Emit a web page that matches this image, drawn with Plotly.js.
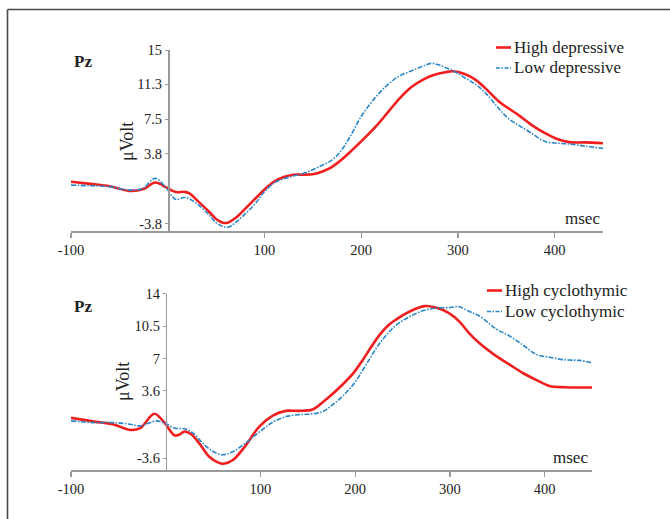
<!DOCTYPE html>
<html>
<head>
<meta charset="utf-8">
<script src="https://cdn.plot.ly/plotly-3.0.1.min.js"></script>
<style>html,body{margin:0;padding:0;background:#fff;}#chart{width:670px;height:519px;}</style>
</head>
<body>
<div id="chart"></div>
<script>
// ---- Data ----
const seriesNames = ["High depressive", "Low depressive", "High cyclothymic", "Low cyclothymic"];
const xTickVals = [-100, 100, 200, 300, 400];
const xTickText = ["-100", "100", "200", "300", "400"];
const yTopTickVals = [-3.8, 3.8, 7.5, 11.3, 15];
const yTopTickText = ["-3.8", "3.8", "7.5", "11.3", "15"];
const yBotTickVals = [-3.6, 3.6, 7, 10.5, 14];
const yBotTickText = ["-3.6", "3.6", "7", "10.5", "14"];

const msHighDep = [-100,-80,-60,-40,-25,-13,-2,5,10,17,22,32,43,50,57,62,70,80,90,100,110,120,130,140,150,160,170,180,190,200,215,228,240,252,265,275,287,295,307,318,328,342,352,362,376,390,404,417,431,450];
const vHighDep  = [0.73,0.5,0.25,-0.25,-0.05,0.65,0.15,-0.25,-0.4,-0.36,-0.5,-1.45,-2.54,-3.3,-3.7,-3.7,-3.2,-2.2,-1.15,-0.1,0.75,1.25,1.5,1.5,1.55,1.85,2.35,3.15,4.1,5.1,6.7,8.3,9.8,11.0,11.85,12.3,12.6,12.7,12.4,11.8,10.9,9.45,8.7,8.0,6.9,6.0,5.3,5.0,5.0,4.9];

const msLowDep = [-100,-80,-60,-40,-26,-13,-2,5,9,17,22,32,43,50,57,62,70,80,90,100,110,120,130,142,156,170,180,190,200,215,228,239,252,263,272,280,287,296,307,318,328,342,352,362,376,390,404,417,431,450];
const vLowDep  = [0.37,0.3,0.2,-0.17,0.0,1.1,0.12,-0.9,-1.2,-0.97,-1.1,-1.8,-2.9,-3.7,-4.1,-4.2,-3.7,-2.75,-1.7,-0.35,0.6,1.05,1.35,1.7,2.33,3.1,4.2,5.9,7.8,9.9,11.3,12.15,12.75,13.2,13.55,13.4,13.1,12.7,12.0,11.3,10.4,8.7,7.6,6.9,6.0,5.1,4.9,4.8,4.6,4.35];

const msHighCyc = [-100,-77,-55,-38,-27,-12,-1,9,14,20,27,36,46,55,61,71,84,99,113,127,141,155,166,176,187,199,208,217,226,235,243,257,273,285,299,310,320,331,349,363,377,391,405,422,450];
const vHighCyc  = [0.7,0.33,0.0,-0.58,-0.4,1.15,0.14,-1.15,-1.1,-0.75,-1.05,-2.1,-3.45,-4.05,-4.2,-3.8,-2.3,-0.2,0.95,1.45,1.45,1.6,2.4,3.25,4.3,5.6,6.9,8.3,9.6,10.6,11.2,12.05,12.65,12.5,11.9,11.0,9.8,8.7,7.3,6.4,5.5,4.76,4.12,3.98,3.95];

const msLowCyc = [-100,-77,-55,-38,-27,-10,-1,10,20,29,39,50,60,71,84,99,113,127,141,155,166,176,187,199,208,217,226,235,243,257,273,286,300,310,320,331,349,363,377,391,405,422,437,450];
const vLowCyc  = [0.38,0.2,0.2,0.03,-0.15,0.38,0.14,-0.4,-0.47,-0.93,-2.0,-2.9,-3.24,-2.9,-2.0,-0.8,0.25,0.84,1.05,1.13,1.38,2.09,3.05,4.4,5.8,7.3,8.7,9.8,10.6,11.5,12.2,12.44,12.5,12.58,12.1,11.6,10.2,9.45,8.5,7.5,7.18,6.9,6.85,6.6];

// ---- Styles ----
const RED = "#f01e1e", BLUE = "#2a86c8";
const SERIF = "Liberation Serif, Times New Roman, serif";
const AXC = "#9a9a9a";

const traces = [
  {x: msHighDep, y: vHighDep, name: seriesNames[0], xaxis: "x", yaxis: "y", type: "scatter", mode: "lines",
   line: {color: RED, width: 2.6, shape: "spline", smoothing: 1}},
  {x: msLowDep, y: vLowDep, name: seriesNames[1], xaxis: "x", yaxis: "y", type: "scatter", mode: "lines",
   line: {color: BLUE, width: 1.6, dash: "5px,1.5px,1.5px,1.5px", shape: "spline", smoothing: 1}},
  {x: msHighCyc, y: vHighCyc, name: seriesNames[2], xaxis: "x2", yaxis: "y2", type: "scatter", mode: "lines",
   line: {color: RED, width: 2.6, shape: "spline", smoothing: 1}},
  {x: msLowCyc, y: vLowCyc, name: seriesNames[3], xaxis: "x2", yaxis: "y2", type: "scatter", mode: "lines",
   line: {color: BLUE, width: 1.6, dash: "5px,1.5px,1.5px,1.5px", shape: "spline", smoothing: 1}}
];

const W = 670, H = 519;
const px = v => v / W, py = v => 1 - v / H;

const xCommon = {
  range: [-100, 450], showline: true, linecolor: AXC, linewidth: 1.5, showgrid: false, zeroline: false,
  ticks: "outside", ticklen: 5, tickcolor: AXC, tickwidth: 1.2, tickmode: "array",
  tickvals: xTickVals, ticktext: xTickText, tickfont: {family: SERIF, size: 14.5, color: "#222"}, automargin: false, fixedrange: true
};
const yCommon = {
  showline: true, linecolor: AXC, linewidth: 1.5, showgrid: false, zeroline: false,
  ticks: "outside", ticklen: 3, tickcolor: AXC, tickmode: "array", anchor: "free", side: "left",
  tickfont: {family: SERIF, size: 14.5, color: "#222"}, automargin: false, fixedrange: true
};

function legendItem(yc, xLine0, xLine1, color, dash, width, text) {
  return {
    shape: {type: "line", xref: "paper", yref: "paper", x0: px(xLine0), x1: px(xLine1), y0: py(yc), y1: py(yc),
            line: {color: color, width: width, dash: dash}},
    ann: {xref: "paper", yref: "paper", x: px(xLine1 + 1), y: py(yc), xanchor: "left", yanchor: "middle",
          text: text, showarrow: false, font: {family: SERIF, size: 17, color: "#222"}}
  };
}
const legItems = [
  legendItem(47.5, 496, 511, RED, "solid", 2.6, seriesNames[0]),
  legendItem(68, 496, 511, BLUE, "4px,1.5px,1.5px,1.5px", 1.6, seriesNames[1]),
  legendItem(290.5, 487, 502, RED, "solid", 2.6, seriesNames[2]),
  legendItem(311.5, 487, 502, BLUE, "4px,1.5px,1.5px,1.5px", 1.6, seriesNames[3])
];

const labelFont = {family: SERIF, size: 17, color: "#222"};
const muFont = {family: SERIF, size: 18, color: "#222"};
const annotations = [
  {xref: "paper", yref: "paper", x: px(72), y: py(62), xanchor: "left", yanchor: "middle", text: "<b>Pz</b>", showarrow: false, font: labelFont},
  {xref: "paper", yref: "paper", x: px(72), y: py(306), xanchor: "left", yanchor: "middle", text: "<b>Pz</b>", showarrow: false, font: labelFont},
  {xref: "paper", yref: "paper", x: px(127), y: py(141), xanchor: "center", yanchor: "middle", text: "μVolt", textangle: -90, showarrow: false, font: muFont},
  {xref: "paper", yref: "paper", x: px(122.5), y: py(381.5), xanchor: "center", yanchor: "middle", text: "μVolt", textangle: -90, showarrow: false, font: muFont},
  {xref: "paper", yref: "paper", x: px(602), y: py(218), xanchor: "right", yanchor: "middle", text: "msec", showarrow: false, font: labelFont},
  {xref: "paper", yref: "paper", x: px(590), y: py(457), xanchor: "right", yanchor: "middle", text: "msec", showarrow: false, font: labelFont}
].concat(legItems.map(d => d.ann));

const shapes = [
  {type: "line", xref: "paper", yref: "paper", x0: px(7.5), x1: px(7.5), y0: py(9.5), y1: 0, line: {color: "#4a4a4a", width: 1.6}},
  {type: "line", xref: "paper", yref: "paper", x0: px(7.5), x1: 1, y0: py(9.5), y1: py(9.5), line: {color: "#4a4a4a", width: 1.6}}
].concat(legItems.map(d => d.shape));

const layout = {
  width: W, height: H, margin: {l: 0, r: 0, t: 0, b: 0},
  paper_bgcolor: "#fff", plot_bgcolor: "rgba(0,0,0,0)", showlegend: false,
  xaxis: Object.assign({}, xCommon, {domain: [px(71), px(603)], anchor: "y"}),
  yaxis: Object.assign({}, yCommon, {domain: [py(231), py(50)], range: [-4.6, 15], position: px(168), tickvals: yTopTickVals, ticktext: yTopTickText}),
  xaxis2: Object.assign({}, xCommon, {domain: [px(71), px(592)], anchor: "y2"}),
  yaxis2: Object.assign({}, yCommon, {domain: [py(470), py(293.5)], range: [-4.87, 14], position: px(165.8), tickvals: yBotTickVals, ticktext: yBotTickText}),
  annotations: annotations, shapes: shapes
};

Plotly.newPlot("chart", traces, layout, {displayModeBar: false, staticPlot: true});
</script>
</body>
</html>
